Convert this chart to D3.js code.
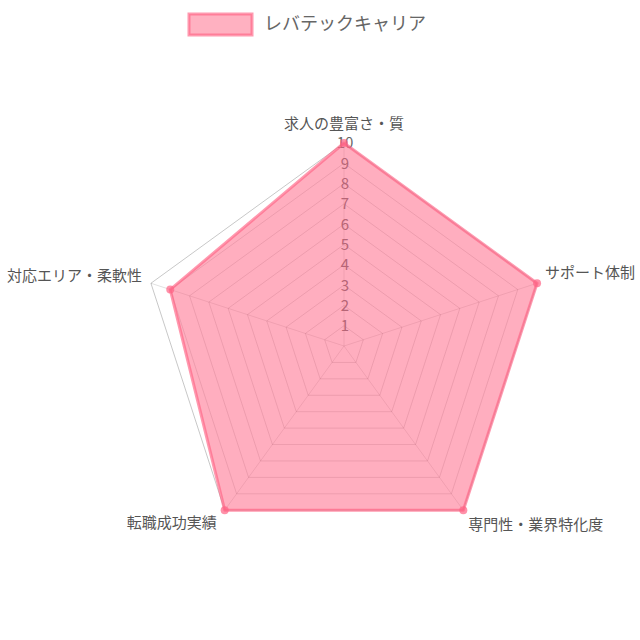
<!DOCTYPE html>
<html>
<head>
<meta charset="utf-8">
<script src="https://cdn.jsdelivr.net/npm/d3@7"></script>
<style>
  body { margin: 0; background: #fff; }
  text { font-family: "Noto Sans CJK JP", "Noto Sans", sans-serif; }
</style>
</head>
<body>
<svg id="chart"></svg>
<script>
let labels = ["求人の豊富さ・質", "サポート体制", "専門性・業界特化度", "転職成功実績", "対応エリア・柔軟性"];
let values = [10, 10, 10, 10, 9];
let tickValues = [1, 2, 3, 4, 5, 6, 7, 8, 9, 10];
let seriesName = "レバテックキャリア";

let w = 640;
let h = 640;
let cx = 344;
let cy = 346;
let R = 203;
let svg = d3.select("#chart").attr("width", w).attr("height", h);

let rScale = d3.scaleLinear().domain([0, 10]).range([0, R]);
let aScale = d3.scaleLinear().domain([0, labels.length]).range([0, 2 * Math.PI]);

let pt = (i, v) => {
    let a = aScale(i);
    return [cx + rScale(v) * Math.sin(a), cy - rScale(v) * Math.cos(a)];
};

// grid polygons
let grid = svg.append("g");
tickValues.forEach((t) => {
    grid.append("polygon")
        .attr("points", labels.map((d, i) => pt(i, t).join(",")).join(" "))
        .attr("fill", "none")
        .attr("stroke", t === 10 ? "rgba(0,0,0,0.22)" : "rgba(0,0,0,0.15)")
        .attr("stroke-width", 1);
});

// angle lines
labels.forEach((d, i) => {
    let p = pt(i, 10);
    grid.append("line")
        .attr("x1", cx).attr("y1", cy)
        .attr("x2", p[0]).attr("y2", p[1])
        .attr("stroke", "rgba(0,0,0,0.12)")
        .attr("stroke-width", 1);
});

// tick labels
svg.append("g")
   .selectAll("text")
   .data(tickValues)
   .enter()
   .append("text")
   .attr("x", cx + 1)
   .attr("y", (d) => cy - rScale(d))
   .attr("dy", "0.36em")
   .attr("text-anchor", "middle")
   .attr("font-family", "Liberation Sans, sans-serif")
   .attr("font-size", 15)
   .attr("fill", "#666")
   .text((d) => d);

// dataset
let line = d3.line();
svg.append("path")
   .attr("d", line(values.map((v, i) => pt(i, v))) + "Z")
   .attr("fill", "rgba(255,99,132,0.52)")
   .attr("stroke", "rgba(255,99,132,0.65)")
   .attr("stroke-width", 3)
   .attr("stroke-linejoin", "round");

svg.append("g")
   .selectAll("circle")
   .data(values)
   .enter()
   .append("circle")
   .attr("cx", (d, i) => pt(i, d)[0])
   .attr("cy", (d, i) => pt(i, d)[1])
   .attr("r", 4)
   .attr("fill", "rgba(255,99,132,0.7)");

// point labels
let labelPos = (i) => {
    let p = pt(i, 10);
    let a = aScale(i) * 180 / Math.PI;
    if (a === 0) return { x: p[0], y: p[1] - 19, anchor: "middle" };
    if (a < 90) return { x: p[0] + 8, y: p[1] - 11, anchor: "start" };
    if (a < 180) return { x: p[0] + 5, y: p[1] + 15, anchor: "start" };
    if (a < 270) return { x: p[0] - 8, y: p[1] + 13, anchor: "end" };
    return { x: p[0] - 9, y: p[1] - 8, anchor: "end" };
};

svg.append("g")
   .selectAll("text")
   .data(labels)
   .enter()
   .append("text")
   .attr("x", (d, i) => labelPos(i).x)
   .attr("y", (d, i) => labelPos(i).y)
   .attr("dy", "0.35em")
   .attr("text-anchor", (d, i) => labelPos(i).anchor)
   .attr("font-size", 15)
   .attr("fill", "#555")
   .text((d) => d);

// legend
let legend = svg.append("g");
legend.append("rect")
      .attr("x", 189)
      .attr("y", 14)
      .attr("width", 63)
      .attr("height", 21)
      .attr("fill", "rgba(255,99,132,0.5)")
      .attr("stroke", "rgba(255,99,132,0.65)")
      .attr("stroke-width", 3);
legend.append("text")
      .attr("x", 264)
      .attr("y", 24)
      .attr("dy", "0.35em")
      .attr("font-size", 18)
      .attr("fill", "#666")
      .text(seriesName);
</script>
</body>
</html>
